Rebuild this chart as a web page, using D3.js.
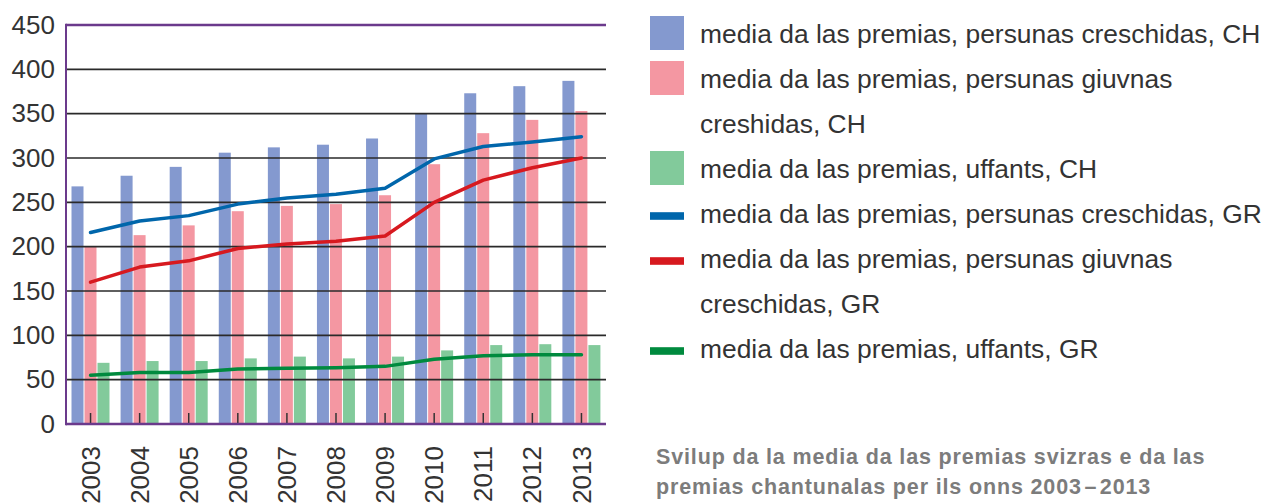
<!DOCTYPE html>
<html>
<head>
<meta charset="utf-8">
<script src="https://cdn.jsdelivr.net/npm/d3@7"></script>
<style>
  html, body { margin: 0; padding: 0; background: #fff; }
  svg { display: block; font-family: "Liberation Sans", Arial, sans-serif; }
</style>
</head>
<body>
<svg id="chart" width="1266" height="504"></svg>
<script>
// ---- data ----
const years = ["2003","2004","2005","2006","2007","2008","2009","2010","2011","2012","2013"];
const chAdults   = [268, 280, 290, 306, 312, 315, 322, 350, 373, 381, 387];
const chYoung    = [200, 213, 224, 240, 246, 248, 258, 293, 328, 343, 353];
const chChildren = [69, 71, 71, 74, 76, 74, 76, 83, 89, 90, 89];
const grAdults   = [216, 229, 235, 248, 255, 259, 266, 299, 313, 318, 324];
const grYoung    = [160, 177, 184, 198, 203, 206, 212, 250, 275, 289, 300];
const grChildren = [55, 58, 58, 62, 63, 63.5, 65, 73, 77, 78, 78];
const yTicks = [0, 50, 100, 150, 200, 250, 300, 350, 400, 450];

const barSeries = [
  { values: chAdults,   color: "#8499cf" },
  { values: chYoung,    color: "#f497a2" },
  { values: chChildren, color: "#82ca9b" }
];
const lineSeries = [
  { values: grAdults,   color: "#0066ab" },
  { values: grYoung,    color: "#d7191f" },
  { values: grChildren, color: "#008a3e" }
];
const legendItems = [
  { type: "rect", color: "#8499cf", lines: ["media da las premias, persunas creschidas, CH"] },
  { type: "rect", color: "#f497a2", lines: ["media da las premias, persunas giuvnas", "creshidas, CH"] },
  { type: "rect", color: "#82ca9b", lines: ["media da las premias, uffants, CH"] },
  { type: "line", color: "#0066ab", lines: ["media da las premias, persunas creschidas, GR"] },
  { type: "line", color: "#d7191f", lines: ["media da las premias, persunas giuvnas", "creschidas, GR"] },
  { type: "line", color: "#008a3e", lines: ["media da las premias, uffants, GR"] }
];
const captionLines = ["Svilup da la media da las premias svizras e da las", "premias chantunalas per ils onns 2003\u200A\u2013\u200A2013"];

// ---- layout ----
const svg = d3.select("#chart");
const mLeft = 66, mRight = 606, mTop = 25, mBottom = 424;
const purple = "#6b3a8c";

const x = d3.scaleBand().domain(years).range([mLeft, mRight]).paddingInner(0).paddingOuter(0);
const xi = d3.scaleBand().domain([0, 1, 2]).range([5.5, 43.5]).paddingInner(1 / 13).paddingOuter(0);
const y = d3.scaleLinear().domain([0, 450]).range([mBottom, mTop]);

// bars
barSeries.forEach((s, si) => {
  svg.append("g").selectAll("rect")
    .data(s.values)
    .join("rect")
    .attr("x", (d, i) => x(years[i]) + xi(si))
    .attr("width", xi.bandwidth())
    .attr("y", d => y(d))
    .attr("height", d => y(0) - y(d))
    .attr("fill", s.color);
});

// gridlines (over the bars)
svg.append("g").selectAll("line")
  .data(yTicks.filter(t => t > 0 && t < 450))
  .join("line")
  .attr("x1", mLeft).attr("x2", mRight)
  .attr("y1", d => y(d)).attr("y2", d => y(d))
  .attr("stroke", "#2a2a2a").attr("stroke-width", 1.7);

// bottom ticks
svg.append("g").selectAll("line")
  .data(years)
  .join("line")
  .attr("x1", d => x(d) + x.bandwidth() / 2).attr("x2", d => x(d) + x.bandwidth() / 2)
  .attr("y1", y(0)).attr("y2", y(0) - 11)
  .attr("stroke", "#333").attr("stroke-width", 1.5);

// frame: top, left, bottom (purple)
svg.append("line").attr("x1", mLeft).attr("x2", mRight).attr("y1", y(450)).attr("y2", y(450))
  .attr("stroke", purple).attr("stroke-width", 2.4);
svg.append("line").attr("x1", mLeft).attr("x2", mRight).attr("y1", y(0)).attr("y2", y(0))
  .attr("stroke", purple).attr("stroke-width", 2.4);
svg.append("line").attr("x1", mLeft).attr("x2", mLeft).attr("y1", y(450) - 1.2).attr("y2", y(0) + 1.2)
  .attr("stroke", purple).attr("stroke-width", 2);

// lines
const lineGen = d3.line()
  .x((d, i) => x(years[i]) + x.bandwidth() / 2)
  .y(d => y(d));
lineSeries.forEach(s => {
  svg.append("path")
    .datum(s.values)
    .attr("d", lineGen)
    .attr("fill", "none")
    .attr("stroke", s.color)
    .attr("stroke-width", 3.5)
    .attr("stroke-linejoin", "round")
    .attr("stroke-linecap", "round");
});

// y axis labels
const yAxis = svg.append("g")
  .attr("transform", `translate(${mLeft},0)`)
  .call(d3.axisLeft(y).tickValues(yTicks).tickSize(0).tickPadding(11).tickFormat(d3.format("d")));
yAxis.select(".domain").remove();
yAxis.selectAll("text")
  .attr("font-size", 26).attr("fill", "#333").attr("font-family", "\"Liberation Sans\", Arial, sans-serif");

// x axis labels
const xAxis = svg.append("g")
  .attr("transform", `translate(0,${mBottom})`)
  .call(d3.axisBottom(x).tickSize(0));
xAxis.select(".domain").remove();
xAxis.selectAll("text")
  .attr("transform", "rotate(-90)")
  .attr("x", -22).attr("y", 0).attr("dy", "0.35em")
  .attr("text-anchor", "end")
  .attr("font-size", 26).attr("fill", "#333").attr("font-family", "\"Liberation Sans\", Arial, sans-serif");

// legend
const lg = svg.append("g");
let row = 0;
legendItems.forEach(item => {
  const baseline = 43.3 + row * 45;
  if (item.type === "rect") {
    lg.append("rect").attr("x", 650).attr("y", baseline - 27.3).attr("width", 34).attr("height", 34).attr("fill", item.color);
  } else {
    lg.append("rect").attr("x", 650).attr("y", baseline - 11.1).attr("width", 34).attr("height", 7.6).attr("fill", item.color);
  }
  item.lines.forEach((t, k) => {
    lg.append("text").attr("x", 700).attr("y", baseline + k * 45)
      .attr("font-size", 26.4).attr("fill", "#333").text(t);
  });
  row += item.lines.length;
});

// caption
svg.append("g").selectAll("text")
  .data(captionLines)
  .join("text")
  .attr("x", 656).attr("y", (d, i) => 463.5 + i * 30)
  .attr("font-size", 21.5).attr("font-weight", "bold").attr("fill", "#7c7c7c")
  .attr("letter-spacing", 0.85)
  .text(d => d);
</script>
</body>
</html>
